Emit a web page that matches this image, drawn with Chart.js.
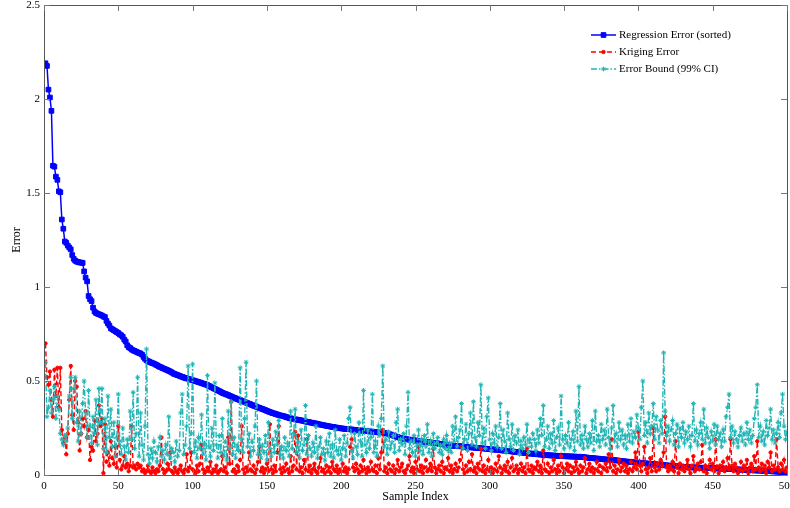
<!DOCTYPE html>
<html>
<head>
<meta charset="utf-8">
<title>Error</title>
<script src="https://cdn.jsdelivr.net/npm/chart.js"></script>
<style>
  html,body{margin:0;padding:0;background:#fff;overflow:hidden;}
  #wrap{position:absolute;left:0;top:0;width:800px;height:508px;}
</style>
</head>
<body>
<div id="wrap"><canvas id="chart" width="800" height="508"></canvas></div>

<script>

// =====================
// DATA
// =====================

const xTicks = [0,50,100,150,200,250,300,350,400,450,500];
const yTicks = [0,0.5,1,1.5,2,2.5];

const seriesNames = ["Regression Error (sorted)","Kriging Error","Error Bound (99% CI)"];

const regression = [
2.190,2.176,2.050,2.008,1.937,1.645,1.640,1.587,1.570,1.509,
1.504,1.359,1.310,1.242,1.235,1.220,1.210,1.200,1.170,1.150,
1.140,1.135,1.133,1.130,1.130,1.128,1.083,1.050,1.030,0.952,
0.935,0.925,0.890,0.870,0.862,0.858,0.855,0.852,0.848,0.843,
0.840,0.820,0.806,0.795,0.780,0.775,0.770,0.765,0.760,0.755,
0.748,0.743,0.735,0.720,0.710,0.690,0.680,0.675,0.668,0.663,
0.660,0.656,0.652,0.649,0.646,0.640,0.628,0.618,0.610,0.606,
0.602,0.598,0.595,0.592,0.588,0.584,0.579,0.575,0.572,0.568,
0.565,0.561,0.558,0.554,0.550,0.546,0.540,0.537,0.534,0.531,
0.528,0.525,0.522,0.519,0.516,0.514,0.512,0.509,0.507,0.504,
0.502,0.499,0.497,0.494,0.492,0.489,0.486,0.484,0.481,0.478,
0.474,0.470,0.466,0.462,0.458,0.454,0.450,0.446,0.442,0.437,
0.434,0.431,0.428,0.425,0.421,0.418,0.414,0.411,0.408,0.404,
0.401,0.398,0.395,0.392,0.389,0.385,0.382,0.379,0.376,0.372,
0.369,0.366,0.363,0.360,0.357,0.354,0.351,0.348,0.345,0.341,
0.338,0.335,0.332,0.329,0.327,0.324,0.322,0.319,0.317,0.315,
0.313,0.311,0.308,0.306,0.303,0.301,0.300,0.298,0.296,0.295,
0.293,0.292,0.290,0.289,0.287,0.285,0.283,0.282,0.280,0.278,
0.277,0.275,0.274,0.272,0.270,0.268,0.267,0.265,0.263,0.262,
0.260,0.259,0.257,0.256,0.255,0.253,0.252,0.250,0.249,0.248,
0.247,0.246,0.245,0.245,0.244,0.243,0.242,0.241,0.240,0.239,
0.238,0.237,0.237,0.236,0.235,0.234,0.233,0.233,0.232,0.231,
0.230,0.229,0.228,0.228,0.227,0.226,0.225,0.224,0.223,0.222,
0.221,0.219,0.216,0.213,0.210,0.207,0.204,0.202,0.199,0.197,
0.195,0.193,0.191,0.190,0.189,0.188,0.187,0.186,0.185,0.183,
0.182,0.181,0.180,0.179,0.178,0.177,0.176,0.175,0.174,0.173,
0.172,0.171,0.170,0.169,0.168,0.166,0.165,0.164,0.162,0.160,
0.159,0.158,0.157,0.157,0.156,0.155,0.155,0.154,0.153,0.153,
0.152,0.151,0.150,0.150,0.149,0.148,0.147,0.147,0.146,0.145,
0.144,0.144,0.143,0.142,0.142,0.141,0.140,0.139,0.139,0.138,
0.137,0.136,0.135,0.135,0.134,0.133,0.132,0.131,0.130,0.130,
0.129,0.128,0.127,0.126,0.125,0.124,0.123,0.122,0.121,0.121,
0.120,0.119,0.118,0.117,0.116,0.115,0.114,0.114,0.113,0.112,
0.111,0.110,0.110,0.109,0.108,0.107,0.106,0.106,0.105,0.105,
0.104,0.104,0.103,0.103,0.102,0.102,0.101,0.101,0.100,0.100,
0.100,0.099,0.099,0.099,0.098,0.098,0.098,0.097,0.097,0.097,
0.097,0.096,0.095,0.094,0.093,0.092,0.091,0.091,0.090,0.089,
0.088,0.087,0.087,0.086,0.085,0.084,0.083,0.083,0.082,0.081,
0.081,0.080,0.080,0.079,0.078,0.077,0.076,0.075,0.074,0.073,
0.072,0.071,0.071,0.070,0.069,0.068,0.067,0.066,0.066,0.065,
0.064,0.064,0.063,0.062,0.062,0.061,0.060,0.059,0.059,0.058,
0.057,0.056,0.056,0.055,0.054,0.053,0.052,0.052,0.051,0.050,
0.050,0.049,0.048,0.047,0.047,0.046,0.045,0.044,0.044,0.043,
0.043,0.042,0.042,0.041,0.041,0.041,0.040,0.040,0.040,0.039,
0.039,0.039,0.038,0.038,0.038,0.038,0.037,0.037,0.037,0.037,
0.036,0.036,0.035,0.035,0.034,0.034,0.034,0.033,0.033,0.032,
0.032,0.032,0.031,0.031,0.030,0.030,0.029,0.029,0.029,0.028,
0.028,0.027,0.027,0.027,0.026,0.026,0.025,0.025,0.024,0.024,
0.024,0.023,0.023,0.022,0.022,0.022,0.021,0.021,0.020,0.020,
0.019,0.019,0.018,0.018,0.017,0.016,0.015,0.013,0.011,0.008
];

const kriging = [
0.70,0.52,0.48,0.55,0.40,0.31,0.56,0.42,0.57,0.36,
0.57,0.24,0.17,0.20,0.11,0.22,0.40,0.58,0.32,0.24,
0.50,0.47,0.28,0.13,0.22,0.30,0.26,0.34,0.20,0.24,
0.08,0.15,0.13,0.29,0.18,0.22,0.37,0.26,0.30,0.01,
0.27,0.07,0.12,0.05,0.18,0.09,0.06,0.15,0.04,0.26,
0.08,0.03,0.05,0.10,0.04,0.06,0.02,0.05,0.26,0.04,
0.05,0.03,0.06,0.04,0.05,0.02,0.03,0.01,0.02,0.05,
0.02,0.01,0.04,0.02,0.01,0.03,0.02,0.05,0.20,0.03,
0.01,0.02,0.06,0.03,0.12,0.02,0.01,0.04,0.02,0.01,
0.03,0.05,0.02,0.01,0.03,0.11,0.02,0.04,0.12,0.03,
0.02,0.01,0.05,0.02,0.06,0.16,0.03,0.01,0.02,0.04,
0.02,0.07,0.01,0.03,0.02,0.05,0.01,0.02,0.03,0.10,
0.02,0.04,0.01,0.20,0.06,0.39,0.02,0.03,0.01,0.05,
0.02,0.08,0.26,0.03,0.01,0.04,0.02,0.12,0.03,0.02,
0.05,0.01,0.03,0.07,0.15,0.02,0.04,0.01,0.03,0.06,
0.02,0.27,0.03,0.01,0.05,0.02,0.12,0.26,0.03,0.01,
0.04,0.02,0.06,0.03,0.01,0.10,0.02,0.05,0.23,0.03,
0.21,0.02,0.04,0.01,0.08,0.03,0.19,0.02,0.05,0.01,
0.03,0.06,0.02,0.01,0.04,0.09,0.02,0.03,0.01,0.05,
0.02,0.04,0.01,0.07,0.03,0.02,0.05,0.01,0.03,0.02,
0.06,0.02,0.04,0.01,0.03,0.15,0.19,0.04,0.02,0.06,
0.03,0.01,0.05,0.02,0.08,0.03,0.01,0.04,0.02,0.07,
0.03,0.02,0.05,0.01,0.09,0.03,0.12,0.24,0.02,0.04,
0.01,0.06,0.03,0.02,0.05,0.01,0.03,0.08,0.02,0.04,
0.06,0.02,0.01,0.03,0.05,0.10,0.02,0.04,0.01,0.07,
0.03,0.15,0.02,0.05,0.01,0.04,0.08,0.02,0.03,0.06,
0.02,0.14,0.04,0.01,0.03,0.05,0.02,0.07,0.01,0.04,
0.03,0.09,0.02,0.05,0.01,0.03,0.06,0.02,0.04,0.08,
0.15,0.03,0.01,0.05,0.02,0.07,0.03,0.11,0.02,0.04,
0.01,0.06,0.03,0.14,0.02,0.05,0.01,0.03,0.08,0.02,
0.04,0.01,0.03,0.06,0.02,0.10,0.04,0.01,0.03,0.05,
0.02,0.07,0.01,0.04,0.09,0.02,0.03,0.05,0.01,0.03,
0.06,0.02,0.04,0.01,0.14,0.03,0.02,0.05,0.01,0.04,
0.03,0.07,0.02,0.05,0.01,0.13,0.03,0.02,0.06,0.01,
0.04,0.02,0.08,0.03,0.01,0.05,0.02,0.10,0.04,0.01,
0.03,0.06,0.02,0.05,0.01,0.04,0.02,0.07,0.03,0.01,
0.05,0.02,0.04,0.09,0.01,0.03,0.06,0.02,0.04,0.01,
0.03,0.07,0.02,0.05,0.01,0.04,0.03,0.06,0.02,0.11,
0.04,0.19,0.02,0.05,0.01,0.03,0.08,0.02,0.04,0.06,
0.02,0.05,0.01,0.03,0.07,0.02,0.04,0.12,0.03,0.23,
0.05,0.02,0.06,0.15,0.03,0.01,0.04,0.09,0.02,0.25,
0.04,0.02,0.06,0.03,0.08,0.05,0.12,0.31,0.04,0.02,
0.05,0.03,0.07,0.02,0.18,0.04,0.01,0.06,0.03,0.05,
0.02,0.04,0.08,0.03,0.01,0.05,0.10,0.02,0.04,0.06,
0.03,0.07,0.16,0.02,0.05,0.01,0.04,0.08,0.03,0.06,
0.02,0.19,0.04,0.01,0.05,0.03,0.07,0.02,0.04,0.09,
0.03,0.19,0.05,0.02,0.06,0.04,0.01,0.03,0.07,0.02,
0.05,0.03,0.08,0.01,0.04,0.06,0.02,0.10,0.03,0.18,
0.04,0.02,0.06,0.03,0.05,0.01,0.07,0.04,0.12,0.02,
0.05,0.03,0.19,0.04,0.02,0.06,0.03,0.08,0.02,0.04
];

const bound = [
0.60,0.31,0.36,0.45,0.33,0.40,0.47,0.30,0.42,0.35,
0.22,0.19,0.16,0.21,0.18,0.25,0.42,0.52,0.30,0.46,
0.52,0.28,0.18,0.34,0.22,0.38,0.50,0.33,0.20,0.45,
0.26,0.17,0.31,0.22,0.40,0.16,0.46,0.28,0.46,0.14,
0.30,0.12,0.42,0.20,0.35,0.15,0.28,0.10,0.20,0.43,
0.18,0.11,0.25,0.15,0.08,0.19,0.12,0.34,0.19,0.44,
0.14,0.22,0.52,0.10,0.33,0.16,0.08,0.26,0.67,0.11,
0.06,0.14,0.09,0.18,0.12,0.07,0.15,0.20,0.10,0.13,
0.08,0.16,0.11,0.31,0.09,0.14,0.12,0.07,0.18,0.10,
0.13,0.33,0.43,0.11,0.16,0.26,0.58,0.14,0.22,0.59,
0.12,0.18,0.09,0.20,0.14,0.32,0.11,0.17,0.08,0.53,
0.15,0.10,0.25,0.13,0.49,0.16,0.09,0.21,0.12,0.30,
0.10,0.18,0.08,0.34,0.14,0.39,0.11,0.20,0.09,0.16,
0.13,0.57,0.19,0.12,0.30,0.60,0.15,0.22,0.10,0.18,
0.13,0.26,0.50,0.11,0.19,0.09,0.16,0.12,0.21,0.08,
0.28,0.14,0.10,0.19,0.12,0.23,0.16,0.29,0.11,0.15,
0.09,0.20,0.13,0.17,0.10,0.34,0.14,0.22,0.35,0.12,
0.18,0.09,0.24,0.13,0.16,0.37,0.11,0.21,0.14,0.10,
0.17,0.12,0.26,0.09,0.15,0.20,0.11,0.14,0.08,0.18,
0.12,0.22,0.10,0.16,0.09,0.24,0.13,0.11,0.19,0.08,
0.14,0.21,0.10,0.17,0.30,0.36,0.13,0.09,0.22,0.15,
0.11,0.28,0.18,0.10,0.45,0.16,0.12,0.24,0.14,0.20,
0.43,0.12,0.18,0.10,0.26,0.21,0.30,0.58,0.15,0.19,
0.11,0.23,0.14,0.17,0.21,0.12,0.28,0.35,0.13,0.19,
0.16,0.22,0.11,0.26,0.44,0.14,0.18,0.12,0.21,0.10,
0.16,0.24,0.13,0.19,0.11,0.21,0.15,0.27,0.12,0.18,
0.10,0.22,0.14,0.17,0.20,0.12,0.16,0.11,0.19,0.14,
0.21,0.13,0.17,0.12,0.26,0.18,0.31,0.15,0.20,0.24,
0.38,0.14,0.19,0.27,0.13,0.22,0.33,0.16,0.39,0.20,
0.15,0.28,0.21,0.48,0.17,0.25,0.14,0.31,0.41,0.19,
0.13,0.22,0.17,0.26,0.15,0.20,0.38,0.14,0.24,0.18,
0.12,0.33,0.19,0.15,0.27,0.13,0.21,0.17,0.24,0.11,
0.18,0.14,0.20,0.16,0.27,0.12,0.19,0.15,0.22,0.19,
0.13,0.24,0.17,0.30,0.21,0.37,0.15,0.19,0.26,0.14,
0.22,0.17,0.29,0.13,0.20,0.25,0.16,0.42,0.19,0.14,
0.21,0.17,0.28,0.15,0.19,0.23,0.13,0.34,0.18,0.47,
0.16,0.21,0.14,0.26,0.19,0.15,0.22,0.17,0.29,0.13,
0.34,0.18,0.21,0.15,0.27,0.19,0.24,0.16,0.35,0.20,
0.14,0.25,0.37,0.18,0.22,0.15,0.28,0.19,0.24,0.16,
0.21,0.14,0.27,0.18,0.30,0.17,0.23,0.20,0.32,0.25,
0.19,0.36,0.50,0.21,0.28,0.17,0.33,0.22,0.26,0.38,
0.19,0.31,0.24,0.17,0.29,0.22,0.65,0.34,0.21,0.26,
0.18,0.24,0.29,0.16,0.22,0.27,0.15,0.25,0.20,0.28,
0.17,0.23,0.19,0.26,0.15,0.21,0.38,0.18,0.24,0.16,
0.22,0.28,0.19,0.35,0.17,0.25,0.20,0.14,0.23,0.18,
0.27,0.16,0.26,0.19,0.22,0.15,0.24,0.18,0.31,0.36,
0.43,0.20,0.26,0.17,0.23,0.19,0.15,0.21,0.25,0.18,
0.22,0.16,0.28,0.19,0.24,0.17,0.21,0.30,0.36,0.48,
0.20,0.26,0.18,0.23,0.16,0.29,0.21,0.25,0.35,0.19,
0.24,0.17,0.22,0.28,0.20,0.33,0.43,0.26,0.19,0.23
];

// sample index 1..500
const samples = regression.map((v,i)=>i+1);

const FONT = "'Liberation Serif','Times New Roman',serif";
const CYAN = "#22b4b4";


// =====================
// FRAME + INWARD TICKS (matlab style box)
// =====================

const frame = {
  id:"frame",
  afterDatasetsDraw(chart){
    const {ctx, chartArea:a, scales:{x,y}} = chart;
    ctx.save();
    ctx.strokeStyle = "#555";
    ctx.lineWidth = 1;
    ctx.setLineDash([]);
    ctx.beginPath();
    ctx.rect(a.left+0.5, a.top+0.5, a.right-a.left, a.bottom-a.top);
    ctx.stroke();

    ctx.strokeStyle = "#777";
    ctx.beginPath();
    xTicks.forEach(v=>{
      const px = Math.round(x.getPixelForValue(v))+0.5;
      ctx.moveTo(px,a.bottom); ctx.lineTo(px,a.bottom-6);
      ctx.moveTo(px,a.top); ctx.lineTo(px,a.top+6);
    });
    yTicks.forEach(v=>{
      const py = Math.round(y.getPixelForValue(v))+0.5;
      ctx.moveTo(a.left,py); ctx.lineTo(a.left+6,py);
      ctx.moveTo(a.right,py); ctx.lineTo(a.right-6,py);
    });
    ctx.stroke();
    ctx.restore();
  }
};


// =====================
// LEGEND (line sample + marker)
// =====================

const legend = {
  id:"lineLegend",
  afterDraw(chart){
    const ctx = chart.ctx;
    const x0 = 591, x1 = 616, tx = 619;
    const rows = [35,52,69];
    ctx.save();
    chart.data.datasets.forEach((ds,i)=>{
      const yy = rows[i];
      ctx.strokeStyle = ds.borderColor;
      ctx.lineWidth = ds.borderWidth;
      ctx.setLineDash(ds.borderDash || []);
      ctx.beginPath();
      ctx.moveTo(x0,yy); ctx.lineTo(x1,yy);
      ctx.stroke();
      ctx.setLineDash([]);
      ctx.fillStyle = ds.pointBackgroundColor;
      ctx.strokeStyle = ds.pointBorderColor;
      ctx.lineWidth = 1;
      Chart.helpers.drawPoint(ctx,{pointStyle:ds.pointStyle,radius:ds.pointRadius,borderWidth:1,rotation:0},(x0+x1)/2,yy);
      ctx.fillStyle = "#000";
      ctx.font = "11px "+FONT;
      ctx.textBaseline = "middle";
      ctx.fillText(ds.label, tx, yy);
    });
    ctx.restore();
  }
};


// =====================
// CHART
// =====================

new Chart(document.getElementById("chart"),{
  type:"line",
  data:{
    labels:samples,
    datasets:[
      {
        label:seriesNames[0],
        data:regression,
        borderColor:"#0000ff",
        borderWidth:1.5,
        pointStyle:"rect",
        pointRadius:3.3,
        pointBackgroundColor:"#0000ff",
        pointBorderColor:"#0000ff",
        pointBorderWidth:1,
        order:3
      },
      {
        label:seriesNames[1],
        data:kriging,
        borderColor:"#ff0000",
        borderWidth:1.4,
        borderDash:[5,3],
        pointStyle:"circle",
        pointRadius:1.7,
        pointBackgroundColor:"#ff0000",
        pointBorderColor:"#ff0000",
        pointBorderWidth:1,
        order:2
      },
      {
        label:seriesNames[2],
        data:bound,
        borderColor:CYAN,
        borderWidth:1.4,
        borderDash:[6,2,1.5,2],
        pointStyle:"star",
        pointRadius:2.4,
        pointBackgroundColor:CYAN,
        pointBorderColor:CYAN,
        pointBorderWidth:1,
        order:1
      }
    ]
  },
  options:{
    responsive:false,
    animation:false,
    events:[],
    layout:{padding:{left:0,right:13,top:5,bottom:0}},
    elements:{line:{tension:0}},
    plugins:{
      legend:{display:false},
      tooltip:{enabled:false}
    },
    scales:{
      x:{
        type:"linear",
        min:0,max:500,
        afterBuildTicks(s){ s.ticks = xTicks.map(v=>({value:v})); },
        afterFit(s){ s.height = 33; s.paddingLeft = 0; s.paddingRight = 0; },
        grid:{display:false,drawTicks:false},
        border:{display:false},
        ticks:{color:"#000",font:{family:FONT,size:11},padding:5,maxRotation:0,autoSkip:false},
        title:{display:true,text:"Sample Index",color:"#000",font:{family:FONT,size:12},padding:{top:0,bottom:4}}
      },
      y:{
        min:0,max:2.5,
        afterBuildTicks(s){ s.ticks = yTicks.map(v=>({value:v})); },
        afterFit(s){ s.width = 44; s.paddingTop = 0; s.paddingBottom = 0; },
        grid:{display:false,drawTicks:false},
        border:{display:false},
        ticks:{color:"#000",font:{family:FONT,size:11},padding:4,callback:v=>String(v)},
        title:{display:true,text:"Error",color:"#000",font:{family:FONT,size:12},padding:{top:10,bottom:0}}
      }
    }
  },
  plugins:[frame,legend]
});

</script>
</body>
</html>
